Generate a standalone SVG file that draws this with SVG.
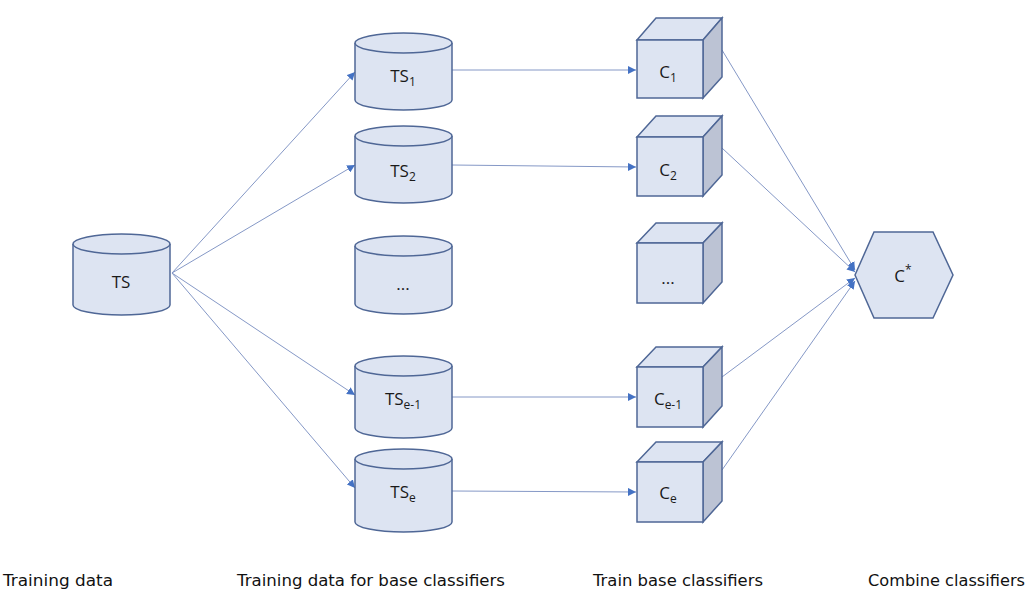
<svg xmlns="http://www.w3.org/2000/svg" width="1032" height="600" viewBox="0 0 1032 600">
<defs>
<style>
.shape{fill:#dde4f2;stroke:#4f6796;stroke-width:1.5}
.side{fill:#bcc3d4;stroke:#4f6796;stroke-width:1.5}
.lbl{font-family:"Open Sans","Liberation Sans",sans-serif;font-size:17px;fill:#1a1a1a;text-anchor:middle}
.sub{font-size:12px}
.cap{font-family:"DejaVu Sans","Liberation Sans",sans-serif;font-size:16.5px;fill:#111}
.conn{stroke:#8598c6;stroke-width:1;fill:none;marker-end:url(#ah)}
</style>
<marker id="ah" viewBox="0 0 10 10" refX="10" refY="5" markerWidth="8" markerHeight="8" markerUnits="userSpaceOnUse" orient="auto">
<path d="M0,0 L10,5 L0,10 z" fill="#4472c4"/>
</marker>
</defs>
<rect width="1032" height="600" fill="#ffffff"/>

<g id="connectors">
<line class="conn" x1="172" y1="273" x2="355" y2="72"/>
<line class="conn" x1="172" y1="273" x2="355" y2="165"/>
<line class="conn" x1="172" y1="273" x2="355" y2="395"/>
<line class="conn" x1="172" y1="273" x2="355" y2="488"/>
<line class="conn" x1="452" y1="70" x2="636" y2="70"/>
<line class="conn" x1="452" y1="165" x2="636" y2="167"/>
<line class="conn" x1="452" y1="397" x2="636" y2="397"/>
<line class="conn" x1="452" y1="491" x2="636" y2="492"/>
<line class="conn" x1="722" y1="50" x2="855" y2="270"/>
<line class="conn" x1="722" y1="148" x2="855" y2="272"/>
<line class="conn" x1="722" y1="377" x2="855" y2="278"/>
<line class="conn" x1="722" y1="470" x2="855" y2="281"/>
</g>

<g id="node-ts">
<path class="shape" d="M73,244 L73,305 A48.5,10 0 0 0 170,305 L170,244"/>
<ellipse class="shape" cx="121.5" cy="244" rx="48.5" ry="10"/>
<text class="lbl" x="121" y="288">TS</text>
</g>

<g id="node-ts1">
<path class="shape" d="M355,43 L355,100 A48.5,10 0 0 0 452,100 L452,43"/>
<ellipse class="shape" cx="403.5" cy="43" rx="48.5" ry="10"/>
<text class="lbl" x="403" y="82">TS<tspan class="sub" dy="4">1</tspan></text>
</g>

<g id="node-ts2">
<path class="shape" d="M355,136 L355,193 A48.5,10 0 0 0 452,193 L452,136"/>
<ellipse class="shape" cx="403.5" cy="136" rx="48.5" ry="10"/>
<text class="lbl" x="403" y="177">TS<tspan class="sub" dy="4">2</tspan></text>
</g>

<g id="node-ts-dots">
<path class="shape" d="M355,246 L355,304 A48.5,10 0 0 0 452,304 L452,246"/>
<ellipse class="shape" cx="403.5" cy="246" rx="48.5" ry="10"/>
<text class="lbl" x="403" y="290">...</text>
</g>

<g id="node-tse1">
<path class="shape" d="M355,366 L355,428 A48.5,10 0 0 0 452,428 L452,366"/>
<ellipse class="shape" cx="403.5" cy="366" rx="48.5" ry="10"/>
<text class="lbl" x="403" y="405">TS<tspan class="sub" dy="4">e-1</tspan></text>
</g>

<g id="node-tse">
<path class="shape" d="M355,459 L355,522 A48.5,10 0 0 0 452,522 L452,459"/>
<ellipse class="shape" cx="403.5" cy="459" rx="48.5" ry="10"/>
<text class="lbl" x="403" y="498">TS<tspan class="sub" dy="4">e</tspan></text>
</g>

<g id="node-c1">
<polygon class="shape" points="637,40 656,18 722,18 703,40"/>
<polygon class="side" points="703,40 722,18 722,77 703,98"/>
<rect class="shape" x="637" y="40" width="66" height="58"/>
<text class="lbl" x="668" y="78">C<tspan class="sub" dy="4">1</tspan></text>
</g>

<g id="node-c2">
<polygon class="shape" points="637,137 656,116 722,116 703,137"/>
<polygon class="side" points="703,137 722,116 722,175 703,196"/>
<rect class="shape" x="637" y="137" width="66" height="59"/>
<text class="lbl" x="668" y="176">C<tspan class="sub" dy="4">2</tspan></text>
</g>

<g id="node-c-dots">
<polygon class="shape" points="637,243 656,223 722,223 703,243"/>
<polygon class="side" points="703,243 722,223 722,282 703,303"/>
<rect class="shape" x="637" y="243" width="66" height="60"/>
<text class="lbl" x="668" y="284">...</text>
</g>

<g id="node-ce1">
<polygon class="shape" points="637,367 656,347 722,347 703,367"/>
<polygon class="side" points="703,367 722,347 722,406 703,427"/>
<rect class="shape" x="637" y="367" width="66" height="60"/>
<text class="lbl" x="668" y="405">C<tspan class="sub" dy="4">e-1</tspan></text>
</g>

<g id="node-ce">
<polygon class="shape" points="637,462 656,442 722,442 703,462"/>
<polygon class="side" points="703,462 722,442 722,501 703,522"/>
<rect class="shape" x="637" y="462" width="66" height="60"/>
<text class="lbl" x="668" y="499">C<tspan class="sub" dy="4">e</tspan></text>
</g>

<g id="node-cstar">
<polygon class="shape" points="855,275 874,232 933,232 953,275 933,318 874,318"/>
<text class="lbl" x="903" y="282">C<tspan class="sub" dy="-8">*</tspan></text>
</g>

<g id="captions">
<text class="cap" x="3" y="586" textLength="110" lengthAdjust="spacingAndGlyphs">Training data</text>
<text class="cap" x="237" y="586" textLength="268" lengthAdjust="spacingAndGlyphs">Training data for base classifiers</text>
<text class="cap" x="593" y="586" textLength="170" lengthAdjust="spacingAndGlyphs">Train base classifiers</text>
<text class="cap" x="868" y="586" textLength="157" lengthAdjust="spacingAndGlyphs">Combine classifiers</text>
</g>
</svg>
